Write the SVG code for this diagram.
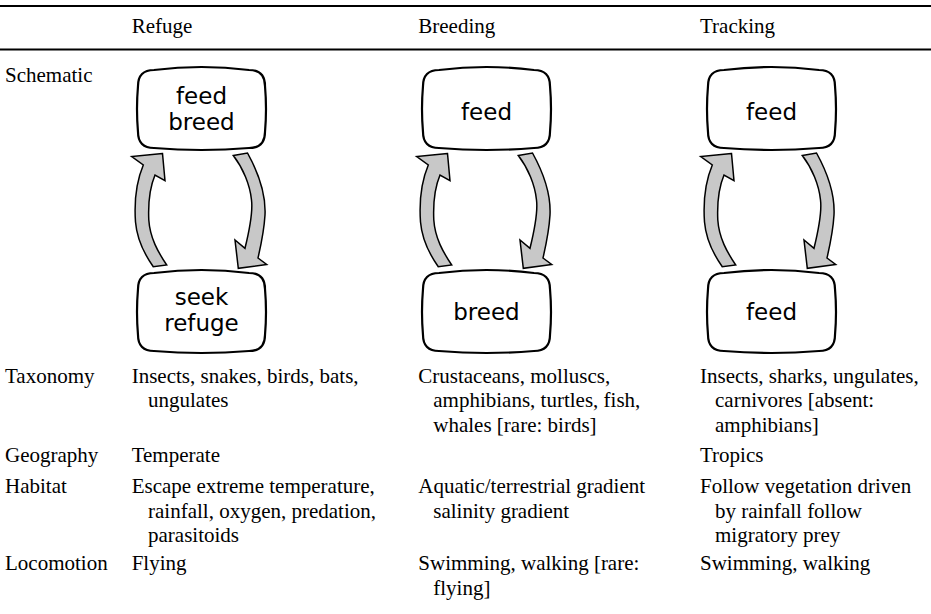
<svg xmlns="http://www.w3.org/2000/svg" width="931" height="614" viewBox="0 0 931 614">
<defs>
<path id="boxshape" d="M16,0 Q63.5,-6 111,0 Q127,0 127,16 Q129,39 127,62 Q127,78 111,78 Q63.5,82 16,78 Q0,78 0,62 Q-2,39 0,16 Q0,0 16,0 Z"/>
<path id="uparrow" d="M162.5,153.5 L131.7,156.5 L143.3,165 C137,180 134,200 135.5,222 C137,240 145,255 153.3,266.7 L166.7,265 C158,252 150,238 148.8,220 C148,202 150,187 155,175 L165,180.7 Z"/>
<path id="downarrow" d="M233.3,155.5 L247.5,153 C258,172 266,195 265,215 C264,232 261,245 258,258 L266.7,264.5 L238.3,268.3 L235,240 L245,248.3 C249,232 253,212 251.5,200 C250,185 243,168 233.3,155.5 Z"/>
</defs>
<style>
.t{font-family:"Liberation Serif","Times New Roman",serif;font-size:21px;fill:#000}
.n{font-family:"DejaVu Sans",Verdana,sans-serif;font-size:23px;fill:#000;text-anchor:middle}
.box{fill:#fff;stroke:#000;stroke-width:2.2}
.arr{fill:#c8c8c8;stroke:#000;stroke-width:1.5;stroke-linejoin:miter}
.rule{stroke:#000;stroke-width:2}
</style>
<rect width="931" height="614" fill="#fff"/>
<g id="rules">
<line class="rule" x1="0" y1="6" x2="931" y2="6"/>
<line class="rule" x1="0" y1="49.5" x2="931" y2="49.5"/>
</g>
<g id="header">
<text class="t" x="131.7" y="33">Refuge</text>
<text class="t" x="418.3" y="33">Breeding</text>
<text class="t" x="700" y="33">Tracking</text>
</g>
<g id="labels">
<text class="t" x="5" y="82">Schematic</text>
<text class="t" x="5" y="382.5">Taxonomy</text>
<text class="t" x="5" y="462">Geography</text>
<text class="t" x="5" y="493">Habitat</text>
<text class="t" x="5" y="570">Locomotion</text>
</g>
<g id="connectors">
<use href="#uparrow" class="arr"/>
<use href="#downarrow" class="arr"/>
<use href="#uparrow" class="arr" transform="translate(285,0)"/>
<use href="#downarrow" class="arr" transform="translate(285,0)"/>
<use href="#uparrow" class="arr" transform="translate(569,0)"/>
<use href="#downarrow" class="arr" transform="translate(569,0)"/>
</g>
<g id="refuge-top">
<use href="#boxshape" class="box" x="138" y="70"/>
<text class="n" x="201.5" y="104">feed</text>
<text class="n" x="201.5" y="130">breed</text>
</g>
<g id="refuge-bottom">
<use href="#boxshape" class="box" x="138" y="273"/>
<text class="n" x="201.5" y="305">seek</text>
<text class="n" x="201.5" y="331">refuge</text>
</g>
<g id="breeding-top">
<use href="#boxshape" class="box" x="423" y="70"/>
<text class="n" x="486.5" y="120">feed</text>
</g>
<g id="breeding-bottom">
<use href="#boxshape" class="box" x="423" y="273"/>
<text class="n" x="486.5" y="320">breed</text>
</g>
<g id="tracking-top">
<use href="#boxshape" class="box" x="708" y="70"/>
<text class="n" x="771.5" y="120">feed</text>
</g>
<g id="tracking-bottom">
<use href="#boxshape" class="box" x="708" y="273"/>
<text class="n" x="771.5" y="320">feed</text>
</g>
<g id="cells">
<text class="t" x="131.7" y="382.5">Insects, snakes, birds, bats,</text>
<text class="t" x="148" y="407">ungulates</text>
<text class="t" x="418.3" y="382.5">Crustaceans, molluscs,</text>
<text class="t" x="433.3" y="407">amphibians, turtles, fish,</text>
<text class="t" x="433.3" y="431.5">whales [rare: birds]</text>
<text class="t" x="700" y="382.5">Insects, sharks, ungulates,</text>
<text class="t" x="715" y="407">carnivores [absent:</text>
<text class="t" x="715" y="431.5">amphibians]</text>
<text class="t" x="131.7" y="462">Temperate</text>
<text class="t" x="700" y="462">Tropics</text>
<text class="t" x="131.7" y="493">Escape extreme temperature,</text>
<text class="t" x="148" y="517.5">rainfall, oxygen, predation,</text>
<text class="t" x="148" y="542">parasitoids</text>
<text class="t" x="418.3" y="493">Aquatic/terrestrial gradient</text>
<text class="t" x="433.3" y="517.5">salinity gradient</text>
<text class="t" x="700" y="493">Follow vegetation driven</text>
<text class="t" x="715" y="517.5">by rainfall follow</text>
<text class="t" x="715" y="542">migratory prey</text>
<text class="t" x="131.7" y="570">Flying</text>
<text class="t" x="418.3" y="570">Swimming, walking [rare:</text>
<text class="t" x="433.3" y="595">flying]</text>
<text class="t" x="700" y="570">Swimming, walking</text>
</g>
</svg>
